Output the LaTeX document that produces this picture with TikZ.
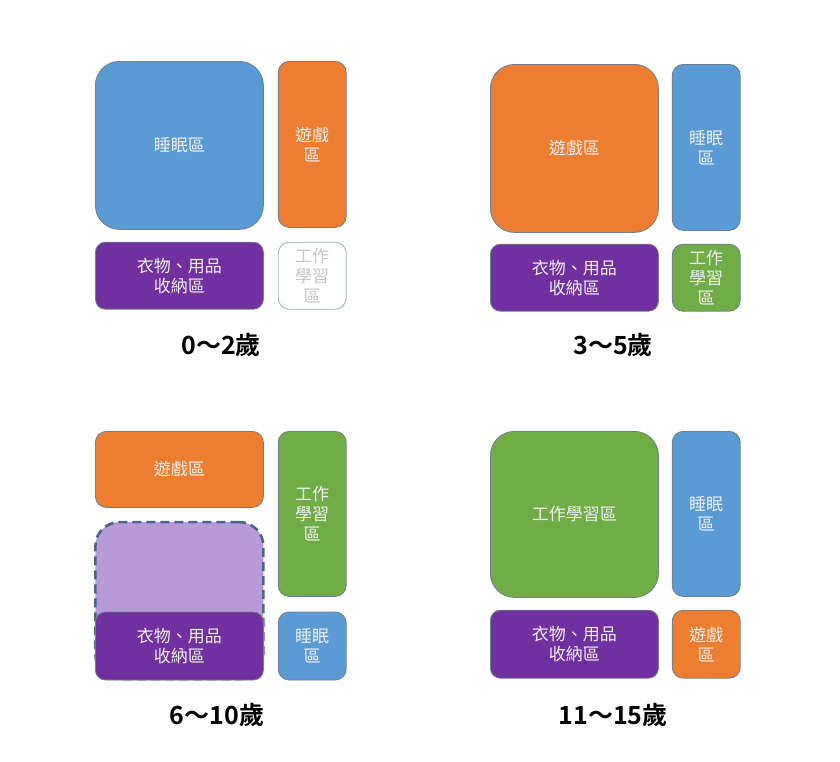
\documentclass[tikz,border=0pt]{standalone}
\usepackage{fontspec}
\setmainfont{Noto Sans CJK TC}[BoldFont={Noto Sans CJK TC Bold}]
\usetikzlibrary{positioning}
\definecolor{sleepblue}{HTML}{5B9BD5}
\definecolor{playorange}{HTML}{ED7D31}
\definecolor{storepurple}{HTML}{7030A0}
\definecolor{studygreen}{HTML}{70AD47}
\definecolor{growlilac}{HTML}{B79BD8}
\definecolor{dashblue}{HTML}{4A6688}
\definecolor{edgegray}{HTML}{6F7F8C}
\tikzset{
  zone/.style    = {draw=edgegray, line width=0.8pt, rounded corners=11pt, inner sep=0pt,
                    align=center, text=white!94!black, font=\fontsize{17}{20}\selectfont},
  bigzone/.style = {zone, minimum width=168pt, minimum height=168pt, rounded corners=24pt},
  tallzone/.style= {zone, minimum width=68pt, minimum height=166pt},
  widezone/.style= {zone, minimum width=168pt, minimum height=67pt, rounded corners=10pt},
  smallzone/.style={zone, minimum width=68pt, minimum height=67pt},
  emptyzone/.style={smallzone, draw=teal!30!gray!60, fill=white, text=gray!45},
  growzone/.style= {draw=dashblue, line width=2.6pt, dash pattern=on 9pt off 5pt,
                    fill=growlilac, rounded corners=24pt, inner sep=0pt,
                    minimum width=168pt, minimum height=157pt},
  agelabel/.style= {font=\fontsize{25}{28}\selectfont\bfseries, text=black}
}
\begin{document}
\begin{tikzpicture}[x=1pt, y=-1pt, node distance=12pt]
  \useasboundingbox[fill=white] (0,0) rectangle (840,761);
  % 0~2
  \node[bigzone, fill=sleepblue, anchor=north west] (sleepA) at (95,61) {睡眠區};
  \node[tallzone, fill=playorange, right=14pt of sleepA.north east, anchor=north west] (playA) {遊戲\\區};
  \node[widezone, fill=storepurple, below=12pt of sleepA] (storeA) {衣物、用品\\收納區};
  \node[emptyzone, right=14pt of storeA] (studyA) {工作\\學習\\區};
  \node[agelabel] (ageA) at (221,345) {0～2歲};
  % 3~5
  \node[bigzone, fill=playorange, anchor=north west] (playB) at (490,64) {遊戲區};
  \node[tallzone, fill=sleepblue, right=13pt of playB.north east, anchor=north west] (sleepB) {睡眠\\區};
  \node[widezone, fill=storepurple, below=11pt of playB] (storeB) {衣物、用品\\收納區};
  \node[smallzone, fill=studygreen, right=13pt of storeB] (studyB) {工作\\學習\\區};
  \node[agelabel] (ageB) at (613,345) {3～5歲};
  % 6~10
  \node[zone, fill=playorange, minimum width=168pt, minimum height=76pt, anchor=north west] (playC) at (95,431) {遊戲區};
  \node[tallzone, fill=studygreen, minimum height=165pt, right=14pt of playC.north east, anchor=north west] (studyC) {工作\\學習\\區};
  \node[growzone, below=13pt of playC] (growC) {};
  \node[widezone, fill=storepurple, minimum height=68pt, anchor=south] (storeC) at (growC.south) {衣物、用品\\收納區};
  \node[smallzone, fill=sleepblue, minimum height=68pt, right=14pt of storeC] (sleepC) {睡眠\\區};
  \node[agelabel] (ageC) at (217,715) {6～10歲};
  % 11~15
  \node[bigzone, fill=studygreen, minimum height=166pt, anchor=north west] (studyD) at (490,431) {工作學習區};
  \node[tallzone, fill=sleepblue, minimum height=165pt, right=13pt of studyD.north east, anchor=north west] (sleepD) {睡眠\\區};
  \node[widezone, fill=storepurple, minimum height=68pt, below=12pt of studyD] (storeD) {衣物、用品\\收納區};
  \node[smallzone, fill=playorange, minimum height=68pt, right=13pt of storeD] (playD) {遊戲\\區};
  \node[agelabel] (ageD) at (613,715) {11～15歲};
\end{tikzpicture}
\end{document}
